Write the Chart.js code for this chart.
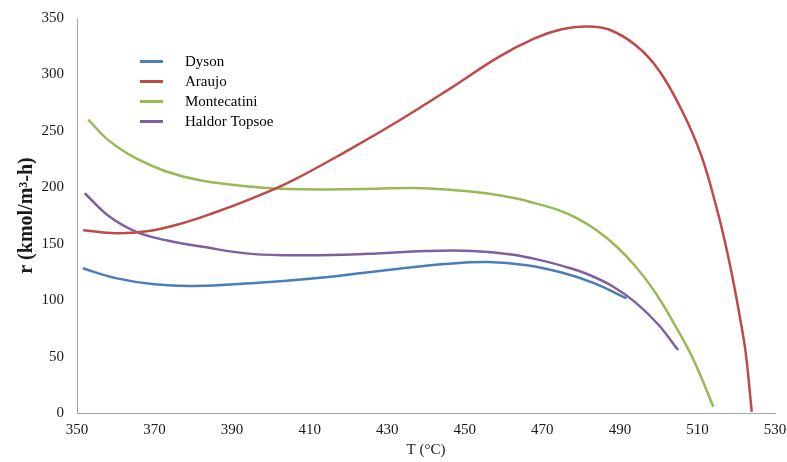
<!DOCTYPE html>
<html>
<head>
<meta charset="utf-8">
<script src="https://cdn.jsdelivr.net/npm/chart.js@4/dist/chart.umd.min.js"></script>
<style>
  html, body { margin: 0; padding: 0; background: #fff; }
  #wrap { width: 787px; height: 462px; }
</style>
</head>
<body>
<div id="wrap"><canvas id="c" width="787" height="462"></canvas></div>
<script>
// ---- data ----
const seriesNames = ["Dyson", "Araujo", "Montecatini", "Haldor Topsoe"];

const dysonT   = [351.5, 360, 370, 380, 395, 410, 423, 433, 445, 456, 466, 475, 483, 491.7];
const dysonR   = [128.2, 119.5, 114, 112.5, 115, 119, 123.8, 127.8, 132, 133.8, 131, 124.5, 115.5, 101.6];

const araujoT  = [351.6, 360, 368, 376, 385, 395, 405, 420, 433, 446, 459, 468, 475, 481, 487, 494, 500, 506, 511, 515, 517, 519, 521, 522.5, 524];
const araujoR  = [162, 159.2, 161, 167, 177, 190, 205, 233, 259, 287, 316, 332, 340, 342.5, 340, 326, 304, 268, 228, 181, 153, 121, 84, 52, 1];

const monteT   = [352.9, 358, 365, 373, 382, 395, 408, 423, 437, 447, 456, 463.4, 468, 474, 479, 484, 489, 494, 499, 504, 509, 514.1];
const monteR   = [260, 242, 226, 214, 206, 200.5, 198.2, 198.5, 199.4, 197.5, 194.5, 190, 186, 180, 172.5, 162, 148, 130, 107.5, 79, 47, 5.6];

const haldorT  = [352, 358, 365, 373, 382, 395, 410, 425, 440, 452, 462, 470, 476, 482, 488, 494, 500, 505];
const haldorR  = [194.7, 175, 161, 153, 147.5, 141, 139.7, 141, 143.5, 143.6, 140.5, 135, 129.5, 122.5, 112.5, 98, 78, 55.8];

const xTicks = [350, 370, 390, 410, 430, 450, 470, 490, 510, 530];
const yTicks = [0, 50, 100, 150, 200, 250, 300, 350];

const colors = ["#4A7EBB", "#BE4B48", "#98B954", "#7D60A0"];

function pts(xs, ys) { return xs.map((x, i) => ({ x: x, y: ys[i] })); }
const allSeries = [pts(dysonT, dysonR), pts(araujoT, araujoR), pts(monteT, monteR), pts(haldorT, haldorR)];

const FONT = "'Liberation Serif', 'Times New Roman', serif";

const legendPlugin = {
  id: 'customLegend',
  afterDraw(chart) {
    const ctx = chart.ctx;
    ctx.save();
    ctx.font = "15px " + FONT;
    ctx.textBaseline = 'middle';
    ctx.textAlign = 'left';
    chart.data.datasets.forEach((ds, i) => {
      const y = 61.5 + i * 20;
      ctx.strokeStyle = ds.borderColor;
      ctx.lineWidth = 3;
      ctx.beginPath();
      ctx.moveTo(140, y);
      ctx.lineTo(163, y);
      ctx.stroke();
      ctx.fillStyle = '#000';
      ctx.fillText(ds.label, 185, y + 1);
    });
    ctx.restore();
  }
};

new Chart(document.getElementById('c'), {
  type: 'line',
  data: {
    datasets: seriesNames.map((n, i) => ({
      label: n,
      data: allSeries[i],
      borderColor: colors[i],
      backgroundColor: colors[i],
      borderWidth: 2.5,
      pointRadius: 0,
      tension: 0.4,
      fill: false
    }))
  },
  options: {
    responsive: false,
    animation: false,
    layout: { padding: { top: 18, right: 12, left: 0, bottom: 0 } },
    plugins: { legend: { display: false }, tooltip: { enabled: false } },
    scales: {
      x: {
        type: 'linear',
        min: 350, max: 530,
        afterBuildTicks(scale) { scale.ticks = xTicks.map(v => ({ value: v })); },
        afterFit(scale) { scale.height = 49; scale.paddingLeft = 0; scale.paddingRight = 0; },
        grid: { display: false, drawTicks: false },
        border: { display: true, color: '#A6A6A6', width: 1 },
        ticks: { padding: 8, color: '#1a1a1a', font: { family: FONT, size: 15 }, maxRotation: 0, autoSkip: false },
        title: { display: true, text: 'T (°C)', color: '#1a1a1a', font: { family: FONT, size: 15 }, padding: { top: 0, bottom: 3 } }
      },
      y: {
        min: 0, max: 350,
        afterBuildTicks(scale) { scale.ticks = yTicks.map(v => ({ value: v })); },
        afterFit(scale) { scale.width = 77; scale.paddingTop = 0; scale.paddingBottom = 0; },
        grid: { display: false, drawTicks: false },
        border: { display: true, color: '#A6A6A6', width: 1 },
        ticks: { padding: 13, color: '#1a1a1a', font: { family: FONT, size: 15 }, autoSkip: false },
        title: { display: true, text: 'r (kmol/m³-h)', color: '#1a1a1a', font: { family: FONT, size: 20, weight: 'bold' }, padding: { top: 15, bottom: 0 } }
      }
    }
  },
  plugins: [legendPlugin]
});
</script>
</body>
</html>
